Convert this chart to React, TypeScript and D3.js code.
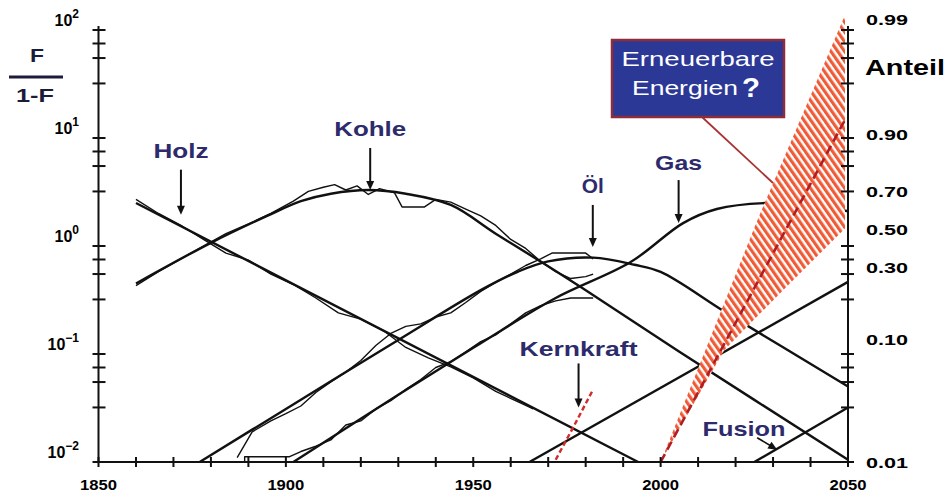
import React from "react";
import * as d3 from "d3";

const W = 949;
const H = 495;

type P = [number, number];

// Model (logistic substitution) curves: [year, F/(1-F)]
const holzModel: P[] = [[1860, 2.5], [1994, 0.01]];
const kohleModel: P[] = [[1860, 0.45], [1880, 1.07], [1895, 1.9], [1904, 2.6], [1912, 3.05], [1922, 3.3], [1932, 3.05], [1944, 2.4], [1956, 1.3], [1968.5, 0.7], [1979, 0.41], [2005, 0.105], [2050, 0.0105]];
const oelModel: P[] = [[1877, 0.01], [1900, 0.031], [1930, 0.135], [1952, 0.39], [1962, 0.58], [1970, 0.72], [1982, 0.78], [1993, 0.67], [2000, 0.575], [2018, 0.235], [2050, 0.05]];
const gasModel: P[] = [[1902, 0.01], [1930, 0.042], [1952, 0.126], [1972, 0.33], [1992, 0.71], [2006, 1.63], [2015, 2.2], [2028, 2.5], [2040, 2.4], [2050, 2.1]];
const kernModel: P[] = [[1965, 0.01], [2050, 0.465]];
const fusionModel: P[] = [[2025, 0.01], [2050, 0.032]];

// Historical data: [year, F/(1-F)]
const holzData: P[] = [[1860, 2.7], [1866, 2.0], [1872, 1.55], [1878, 1.15], [1884, 0.86], [1890, 0.74], [1896, 0.55], [1902, 0.44], [1908, 0.33], [1914, 0.24], [1920, 0.21], [1926, 0.165], [1932, 0.115], [1938, 0.092], [1944, 0.076], [1950, 0.06], [1956, 0.045], [1962, 0.036], [1966, 0.031]];
const kohleData: P[] = [[1860, 0.43], [1866, 0.58], [1872, 0.76], [1878, 1.0], [1884, 1.3], [1890, 1.6], [1896, 2.0], [1902, 2.6], [1906, 3.2], [1910, 3.5], [1913, 3.7], [1916, 3.3], [1919, 3.6], [1922, 3.0], [1925, 3.4], [1929, 3.1], [1931, 2.3], [1937, 2.3], [1940, 2.7], [1944, 2.55], [1948, 2.2], [1952, 1.9], [1956, 1.55], [1960, 1.15], [1964, 0.95], [1968, 0.72], [1972, 0.58], [1976, 0.5], [1980, 0.52], [1982, 0.55]];
const oelData: P[] = [[1887, 0.011], [1891, 0.019], [1896, 0.024], [1900, 0.028], [1904, 0.033], [1908, 0.044], [1912, 0.055], [1916, 0.068], [1920, 0.087], [1924, 0.12], [1928, 0.155], [1932, 0.18], [1936, 0.19], [1940, 0.22], [1944, 0.24], [1948, 0.3], [1952, 0.38], [1956, 0.46], [1960, 0.55], [1964, 0.66], [1968, 0.76], [1971, 0.86], [1976, 0.86], [1980, 0.86], [1982, 0.76]];
const gasData: P[] = [[1889, 0.0101], [1889, 0.0112], [1901, 0.0112], [1904, 0.0125], [1908, 0.014], [1912, 0.016], [1916, 0.022], [1920, 0.024], [1924, 0.031], [1928, 0.037], [1932, 0.047], [1936, 0.058], [1940, 0.075], [1944, 0.085], [1948, 0.105], [1952, 0.13], [1956, 0.15], [1960, 0.19], [1964, 0.24], [1968, 0.28], [1972, 0.31], [1976, 0.33], [1982, 0.33]];
const kernData: P[] = [[1972, 0.0105], [1977, 0.022], [1982, 0.047]];

// Renewable energy scenario band
const renewUpper: P[] = [[2000, 0.01], [2026, 1.8], [2049.2, 138]];
const renewLower: P[] = [[2000, 0.01], [2008, 0.031], [2017, 0.109], [2033, 0.4], [2049.2, 1.45]];
const renewMid: P[] = [[2000, 0.01], [2049, 14.3]];

// Axes
const xTickYears = d3.range(1850, 2051, 10);
const xLabelYears = [1850, 1900, 1950, 2000, 2050];
const leftExponents = [2, 1, 0, -1, -2];
const minorFactors = [0.75, 0.55, 0.32];
const rightShares = [0.99, 0.9, 0.7, 0.5, 0.3, 0.1, 0.01];
const rightLabels = ["0.99", "0.90", "0.70", "0.50", "0.30", "0.10", "0.01"];

const NAVY = "#2d2b6b";
const FONT = "'Liberation Sans', Arial, Helvetica, sans-serif";

function T(props: { x: number; y: number; w?: number; size: number; anchor?: string; fill?: string; weight?: string; children: React.ReactNode }) {
  const { x, y, w, size, anchor = "middle", fill = "#000", weight = "bold", children } = props;
  return (
    <text x={x} y={y} fontSize={size} fontFamily={FONT} fontWeight={weight} fill={fill} textAnchor={anchor}
      textLength={w} lengthAdjust={w ? "spacingAndGlyphs" : undefined}>
      {children}
    </text>
  );
}

export default function App() {
  const x = d3.scaleLinear().domain([1850, 2050]).range([98.5, 848]);
  const y = d3.scaleLog().domain([0.01, 100]).range([462, 30]);

  const smooth = d3.line<P>().x((d) => x(d[0])).y((d) => y(d[1])).curve(d3.curveCatmullRom.alpha(0.5));
  const straight = d3.line<P>().x((d) => x(d[0])).y((d) => y(d[1]));

  const bandPts: P[] = [...renewUpper, ...renewLower.slice().reverse()];
  const bandPath = d3.line<P>().x((d) => x(d[0])).y((d) => y(d[1])).curve(d3.curveLinearClosed)(bandPts) || "";

  const logit = (f: number) => f / (1 - f);

  const yTicks: number[] = [];
  leftExponents.forEach((e) => {
    yTicks.push(Math.pow(10, e));
    if (e > -2) minorFactors.forEach((m) => yTicks.push(Math.pow(10, e) * m));
  });

  const x0 = x(1850);
  const x1 = x(2050);
  const yb = y(0.01);

  const models = [holzModel, kohleModel, oelModel, gasModel, kernModel, fusionModel];
  const datas = [holzData, kohleData, oelData, gasData];

  const arrows = [
    { name: "Holz", tip: [1872, 1.95] as P, len: 45, w: 55, dy: 12 },
    { name: "Kohle", tip: [1922.5, 3.3] as P, len: 42, w: 72, dy: 12 },
    { name: "Öl", tip: [1981.9, 0.98] as P, len: 42, w: 22, dy: 12 },
    { name: "Gas", tip: [2004.8, 1.63] as P, len: 43, w: 47, dy: 10 },
    { name: "Kernkraft", tip: [1978.1, 0.032] as P, len: 44, w: 118, dy: 7 },
  ];

  const head = (tx: number, ty: number, ang: number) => {
    const l = 9, hw = 4;
    const ux = Math.cos(ang), uy = Math.sin(ang);
    const bx = tx - ux * l, by = ty - uy * l;
    return `M${tx},${ty}L${bx - uy * hw},${by + ux * hw}L${bx + uy * hw},${by - ux * hw}Z`;
  };

  const fx = x(2031.1), fy = y(0.013);
  const rightOffsets = [-5, -3, -9, -11, -13, -4, 6];

  return (
    <svg width={W} height={H} style={{ position: "absolute", left: 0, top: 0, background: "#fff" }}>
      <defs>
        <pattern id="hatch" patternUnits="userSpaceOnUse" width="5.6" height="5.6" patternTransform="rotate(-35)">
          <rect width="5.6" height="5.6" fill="#fff" />
          <rect width="3.2" height="5.6" fill="#ef5b37" />
        </pattern>
      </defs>
      <rect width={W} height={H} fill="#fff" />

      {/* model curves */}
      {models.map((m, i) => (
        <path key={"m" + i} d={smooth(m) || ""} fill="none" stroke="#111" strokeWidth={2.4} />
      ))}
      {/* historical data */}
      {datas.map((m, i) => (
        <path key={"d" + i} d={straight(m) || ""} fill="none" stroke="#111" strokeWidth={1.4} strokeLinejoin="round" />
      ))}
      <path d={straight(kernData) || ""} fill="none" stroke="#d42a2a" strokeWidth={2.4} strokeDasharray="5,3" />

      {/* renewables band */}
      <path d={bandPath} fill="url(#hatch)" stroke="none" />
      <path d={straight(renewMid) || ""} fill="none" stroke="#b01e24" strokeWidth={2.6} strokeDasharray="9,5" />

      {/* axes */}
      <g stroke="#111" strokeWidth={2}>
        <line x1={x0} y1={y(100) - 4} x2={x0} y2={yb} />
        <line x1={x1} y1={y(100) - 4} x2={x1} y2={yb} />
        <line x1={x0} y1={yb} x2={x1} y2={yb} />
        {xTickYears.map((t) => (
          <line key={"xt" + t} x1={x(t)} x2={x(t)} y1={yb - 5} y2={yb + 5} />
        ))}
        {yTicks.map((t, i) => (
          <g key={"yt" + i}>
            <line x1={x0 - 6} x2={x0 + 7} y1={y(t)} y2={y(t)} />
            <line x1={x1 - 7} x2={x1 + 6} y1={y(t)} y2={y(t)} />
          </g>
        ))}
      </g>

      {/* x labels */}
      {xLabelYears.map((t) => (
        <T key={"xl" + t} x={x(t)} y={490} size={14} w={37}>{t}</T>
      ))}

      {/* left labels */}
      {leftExponents.map((e) => (
        <text key={"ll" + e} x={79} y={y(Math.pow(10, e)) - 4} fontFamily={FONT} fontWeight="bold" fontSize={16} textAnchor="end">
          <tspan>10</tspan>
          <tspan dy={-8} fontSize={12}>{e < 0 ? "−" + Math.abs(e) : String(e)}</tspan>
        </text>
      ))}

      {/* right labels */}
      {rightShares.map((f, i) => (
        <T key={"rl" + i} x={866} y={y(logit(f)) + rightOffsets[i]} size={15} w={42} anchor="start">
          {rightLabels[i]}
        </T>
      ))}
      <T x={905} y={75} size={22} w={80}>Anteil</T>

      {/* F / 1-F */}
      <T x={37} y={62} size={19} w={14} fill="#1b1b3a">F</T>
      <line x1={9} x2={63} y1={77} y2={77} stroke="#1b1b3a" strokeWidth={3} />
      <T x={35} y={102} size={18} w={38} fill="#1b1b3a">1-F</T>

      {/* curve labels with arrows */}
      {arrows.map((a) => {
        const tx = x(a.tip[0]);
        const ty = y(a.tip[1]);
        return (
          <g key={a.name}>
            <line x1={tx} x2={tx} y1={ty - a.len} y2={ty - 6} stroke="#111" strokeWidth={2} />
            <path d={head(tx, ty, Math.PI / 2)} fill="#111" />
            <T x={tx} y={ty - a.len - a.dy} size={21} w={a.w} fill={NAVY}>{a.name}</T>
          </g>
        );
      })}
      <line x1={fx - 20} y1={fy - 12} x2={fx - 4} y2={fy - 2.4} stroke="#111" strokeWidth={1.6} />
      <path d={head(fx, fy, Math.atan2(12, 20))} fill="#111" />
      <T x={744} y={436} size={21} w={83} fill={NAVY}>Fusion</T>

      {/* callout */}
      <line x1={702} y1={117} x2={773} y2={183} stroke="#a83232" strokeWidth={1.8} />
      <rect x={612} y={40} width={172} height={77} fill="#2c3896" stroke="#8e2c3a" strokeWidth={2.5} />
      <T x={698} y={66} size={21} w={153} fill="#fff" weight="normal">Erneuerbare</T>
      <T x={632} y={95} size={21} w={106} fill="#fff" weight="normal" anchor="start">Energien</T>
      <T x={751} y={97} size={28} w={18} fill="#fff">?</T>
    </svg>
  );
}
